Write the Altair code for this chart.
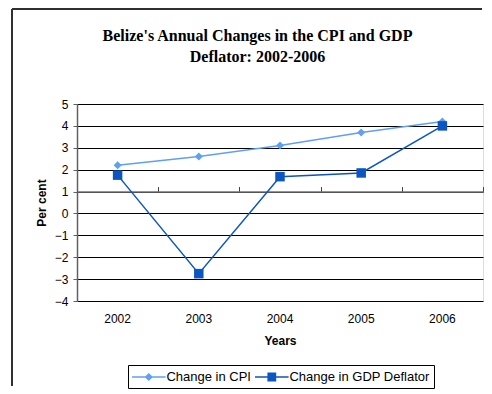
import altair as alt
import pandas as pd

years = ["2002", "2003", "2004", "2005", "2006"]
cpi = [2.2, 2.6, 3.1, 3.7, 4.2]
gdp = [1.75, -2.75, 1.68, 1.85, 4.0]
series_names = ["Change in CPI", "Change in GDP Deflator"]
colors = ["#5fa0f5", "#0b56c0"]
marker_shapes = ["diamond", "square"]
marker_sizes = [64, 90]
y_ticks = [-4, -3, -2, -1, 0, 1, 2, 3, 4, 5]
title_lines = ["Belize's Annual Changes in the CPI and GDP", "Deflator: 2002-2006"]

rows = []
for name, vals in zip(series_names, [cpi, gdp]):
    for yr, v in zip(years, vals):
        rows.append({"year": yr, "series": name, "value": v})
df = pd.DataFrame(rows)
title_df = pd.DataFrame({"t": ["\n".join(title_lines)]})

W, H = 406, 197
FONT = "Liberation Sans"

# legend symbols: a line with the marker through it
PATH_CPI = "M-2.1,-0.09H-0.42L0,-0.5L0.42,-0.09H2.1V0.09H0.42L0,0.5L-0.42,0.09H-2.1Z"
PATH_GDP = "M-2.1,-0.09H-0.55V-0.55H0.55V-0.09H2.1V0.09H0.55V0.55H-0.55V0.09H-2.1Z"
shape_expr = "datum.value == '%s' ? '%s' : '%s'" % (series_names[0], PATH_CPI, PATH_GDP)
fill_expr = "datum.value == '%s' ? '%s' : '%s'" % (series_names[0], colors[0], colors[1])

legend = alt.Legend(
    title=None, orient="none", legendX=51, legendY=261,
    direction="horizontal", strokeColor="#000000", fillColor="#ffffff",
    padding=4, symbolSize=256, symbolOffset=8.8, symbolStrokeWidth=0,
    symbolType=alt.ExprRef(expr=shape_expr),
    symbolFillColor=alt.ExprRef(expr=fill_expr),
    symbolOpacity=1,
    labelFont=FONT, labelFontSize=13, labelColor="#000000",
    labelOffset=9.6, columnPadding=4,
)

xscale = alt.Scale(type="band", paddingInner=0, paddingOuter=0)
yenc = alt.Y(
    "value:Q",
    scale=alt.Scale(domain=[-4, 5], nice=False),
    axis=alt.Axis(
        values=y_ticks, title="Per cent", grid=True, gridColor="#000000",
        gridWidth=1, domainColor="#606060", domainWidth=1.5, tickColor="#606060",
        tickSize=4, labelPadding=5, labelFont=FONT, labelFontSize=12,
        labelColor="#000000", titleFont=FONT, titleFontSize=12,
        titleFontWeight="bold", titleColor="#000000", titlePadding=6,
    ),
)
color_enc = alt.Color(
    "series:N",
    scale=alt.Scale(domain=series_names, range=colors),
    legend=legend,
)

lines = alt.Chart(df).mark_line(strokeWidth=1.5).encode(
    x=alt.X(
        "year:O", scale=xscale,
        axis=alt.Axis(
            title="Years", labelAngle=0, ticks=False, domain=False,
            labelPadding=12, labelFont=FONT, labelFontSize=12,
            labelColor="#000000", titleFont=FONT, titleFontSize=12,
            titleFontWeight="bold", titleColor="#000000", titlePadding=11,
        ),
    ),
    y=yenc,
    color=color_enc,
)

zero_axis = alt.Axis(
    title=None, labels=False, ticks=True, tickBand="extent",
    tickSize=5, tickColor="#404040", domain=True,
    domainColor="#707070", domainWidth=1.5,
    offset=-(H * 4 / 9), grid=False,
)

point_layers = []
for i, (name, shp, sz) in enumerate(zip(series_names, marker_shapes, marker_sizes)):
    point_layers.append(
        alt.Chart(df)
        .transform_filter(alt.datum.series == name)
        .mark_point(filled=True, opacity=1, shape=shp, size=sz)
        .encode(
            x=alt.X("year:O", scale=xscale, axis=zero_axis if i == 0 else None),
            y=yenc,
            color=color_enc,
        )
    )

title_layer = alt.Chart(title_df).mark_text(
    font="Liberation Serif", fontSize=16, fontWeight="bold", color="#000000",
    align="center", baseline="alphabetic", lineBreak="\n", lineHeight=20.5,
).encode(x=alt.value(180.5), y=alt.value(-63), text="t:N")

frame_left = alt.Chart(df).mark_rule(color="#303030", strokeWidth=2).encode(
    x=alt.value(-65), y=alt.value(-95), y2=alt.value(282)
)
frame_top = alt.Chart(df).mark_rule(color="#303030", strokeWidth=2).encode(
    x=alt.value(-65), x2=alt.value(405), y=alt.value(-95)
)

chart = (
    alt.layer(lines, *point_layers, title_layer, frame_left, frame_top)
    .resolve_axis(x="independent")
    .properties(
        width=W, height=H,
        padding={"left": 3, "top": 0, "right": 0, "bottom": 0},
    )
    .configure_view(stroke="#909090", strokeWidth=1.5)
    .configure(background="#ffffff")
)

chart.save("out.html", embed_options={"renderer": "svg", "actions": False})
